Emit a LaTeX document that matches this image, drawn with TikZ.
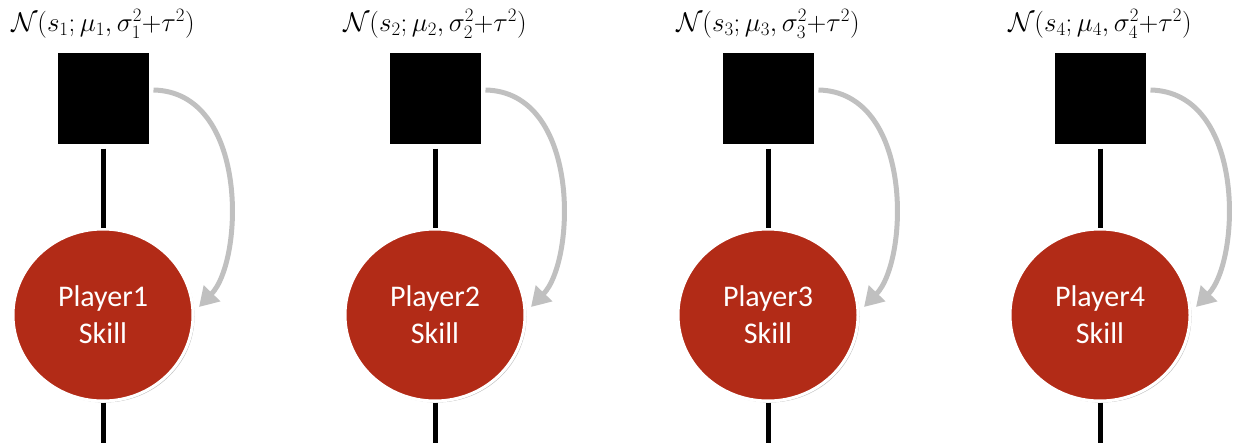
\RequirePackage{fix-cm}
\documentclass[tikz,border=0pt]{standalone}
\usepackage{fontspec}
\setmainfont{Carlito}
\usetikzlibrary{shadows,arrows.meta,shapes.geometric}
\definecolor{skillred}{RGB}{178,43,23}
\definecolor{arrowgray}{RGB}{192,192,192}
\begin{document}
\begin{tikzpicture}[x=1pt,y=-1pt,
  factor/.style={draw=white, line width=5pt, fill=black, minimum size=96pt, inner sep=0pt,
    drop shadow={shadow xshift=1.5pt, shadow yshift=-1.5pt, opacity=0.25, fill=black}},
  skill/.style={ellipse, draw=white, line width=3pt, fill=skillred, minimum width=180pt, minimum height=172pt,
    inner sep=0pt, text=white, align=center, font=\fontsize{30}{37}\selectfont,
    drop shadow={shadow xshift=1.5pt, shadow yshift=-1.5pt, opacity=0.25, fill=black}},
  edge/.style={line width=5pt, black},
  msg/.style={arrowgray, line width=5pt, -{Triangle[length=19pt,width=22pt]}},
  flabel/.style={font=\fontsize{27}{30}\selectfont, inner sep=0pt}]
\useasboundingbox (0,0) rectangle (1237,442);
\foreach \i/\x in {1/103,2/435,3/768,4/1100}{
  \coordinate (b\i) at (\x,445);
  \node[factor] (f\i) at (\x,98) {};
  \node[skill] (p\i) at (\x,315) {Player\i\\Skill};
  \draw[edge] (f\i) -- (p\i);
  \draw[edge] (p\i) -- (b\i);
  \node[flabel] (l\i) at (\x,24) {$\mathcal{N}(s_{\i};\mu_{\i},\sigma_{\i}^2{+}\tau^2)$};
  \coordinate (t\i) at (\x+96,307);
  \draw[msg] ([yshift=8pt]f\i.east) .. controls +(95,2) and +(45,-47) .. (t\i);
}
\end{tikzpicture}
\end{document}
